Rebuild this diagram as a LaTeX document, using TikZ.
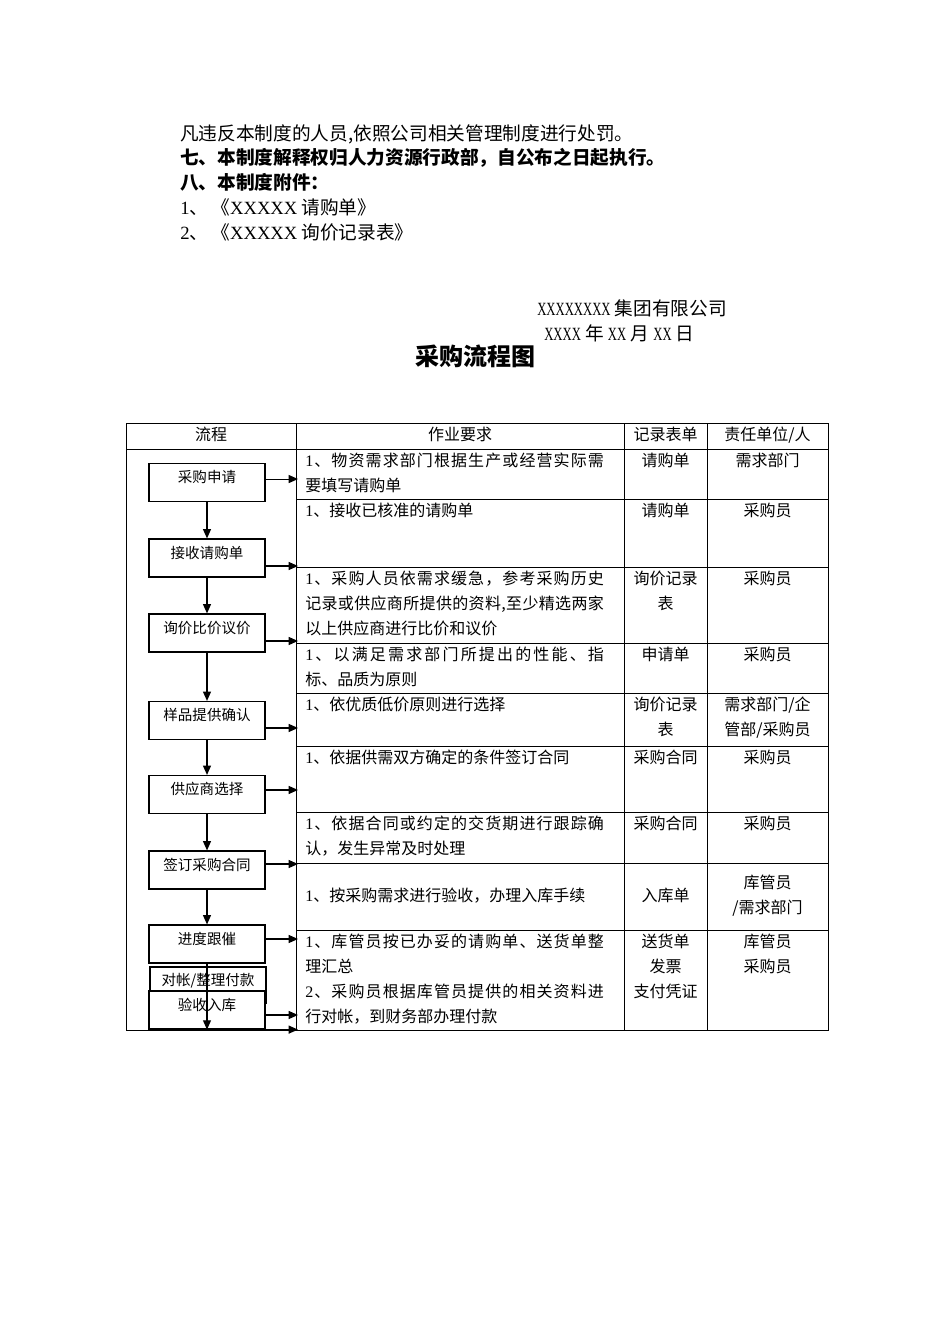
\documentclass[tikz,border=0pt]{standalone}
\usepackage{fontspec}
\setmainfont{Noto Sans CJK SC}
\newfontfamily\tnr{Liberation Serif}
\newfontfamily\tnrn{Liberation Serif}[FakeStretch=0.68]
\usetikzlibrary{arrows.meta}
\newcommand\lt[1]{{\tnr #1}}
\newcommand\jlstop{}
\def\jlstopm{\jlstop}
\def\jl#1{\makebox[224pt][s]{\jlfirst#1\jlstop}}
\def\jlfirst#1{#1\jlloop}
\def\jlloop#1{\def\jltmp{#1}\ifx\jltmp\jlstopm\else\hskip0pt plus 1fil #1\expandafter\jlloop\fi}
\begin{document}
\begin{tikzpicture}[x=0.75pt,y=-0.75pt,
  tx/.style={inner sep=0pt, text height=0.8em, text depth=0.08em},
  toptx/.style={tx, anchor=west, font={\fontsize{14pt}{16pt}\selectfont}},
  ttl/.style={tx, font={\fontsize{18pt}{20pt}\selectfont\bfseries}},
  c2/.style={tx, anchor=west, font={\fontsize{12pt}{14pt}\selectfont}},
  cc/.style={tx, font={\fontsize{12pt}{14pt}\selectfont}},
  flowbox/.style={draw, line width=0.9pt, fill=white, minimum width=87pt,
     minimum height=28.5pt, inner sep=0pt, font={\fontsize{10.9pt}{12pt}\selectfont},
     text height=8pt, text depth=7.66pt},
  arr/.style={line width=0.8pt, -{Triangle[length=7pt,width=6pt]}},
  tline/.style={line width=0.7pt}]
\fill[white] (0,0) rectangle (950,1344);
\useasboundingbox (0,0) rectangle (950,1344);

% top text
\node[toptx] (p1) at (180,136) {凡违反本制度的人员,依照公司相关管理制度进行处罚。};
\node[toptx, font={\fontsize{14pt}{16pt}\selectfont\bfseries}] (p2) at (180,160) {七、本制度解释权归人力资源行政部，自公布之日起执行。};
\node[toptx, font={\fontsize{14pt}{16pt}\selectfont\bfseries}] (p3) at (180,185) {八、本制度附件：};
\node[toptx] (p4) at (180,210) {\lt{1}、\,《\lt{XXXXX} 请购单》};
\node[toptx] (p5) at (180,235) {\lt{2}、\,《\lt{XXXXX} 询价记录表》};
\node[toptx] (co) at (537,311) {{\tnrn XXXXXXXX} 集团有限公司};
\node[toptx] (dt) at (544,336) {{\tnrn XXXX} 年 {\tnrn XX} 月 {\tnrn XX} 日};
\node[ttl] (title) at (475,361) {采购流程图};

% table
\draw[tline] (126,423) rectangle (828,1030);
\draw[tline] (126,449) -- (828,449);
\draw[tline] (296,423) -- (296,1030);
\draw[tline] (624,423) -- (624,1030);
\draw[tline] (707,423) -- (707,1030);
\foreach \yy in {499,567,643,693,746,812,863,930}
  \draw[tline] (296,\yy) -- (828,\yy);

% header
\node[cc] (h1) at (211,436) {流程};
\node[cc] (h2) at (460,436) {作业要求};
\node[cc] (h3) at (665.5,436) {记录表单};
\node[cc] (h4) at (767.5,436) {责任单位/人};

% column 2
\node[c2] (r1a) at (305,462) {\jl{{\lt{1}}、物资需求部门根据生产或经营实际需}};
\node[c2] (r1b) at (305,487) {要填写请购单};
\node[c2] (r2a) at (305,512) {\lt{1}、接收已核准的请购单};
\node[c2] (r3a) at (305,580) {\jl{{\lt{1}}、采购人员依需求缓急，参考采购历史}};
\node[c2] (r3b) at (305,605) {\jl{记录或供应商所提供的资料,至少精选两家}};
\node[c2] (r3c) at (305,630) {以上供应商进行比价和议价};
\node[c2] (r4a) at (305,656) {\jl{{\lt{1}}、以满足需求部门所提出的性能、指}};
\node[c2] (r4b) at (305,681) {标、品质为原则};
\node[c2] (r5a) at (305,706) {\lt{1}、依优质低价原则进行选择};
\node[c2] (r6a) at (305,759) {\lt{1}、依据供需双方确定的条件签订合同};
\node[c2] (r7a) at (305,825) {\jl{{\lt{1}}、依据合同或约定的交货期进行跟踪确}};
\node[c2] (r7b) at (305,850) {认，发生异常及时处理};
\node[c2] (r8a) at (305,897) {\lt{1}、按采购需求进行验收，办理入库手续};
\node[c2] (r9a) at (305,943) {\jl{{\lt{1}}、库管员按已办妥的请购单、送货单整}};
\node[c2] (r9b) at (305,968) {理汇总};
\node[c2] (r9c) at (305,993) {\jl{{\lt{2}}、采购员根据库管员提供的相关资料进}};
\node[c2] (r9d) at (305,1018) {行对帐，到财务部办理付款};

% column 3
\node[cc] (f1) at (665.5,462) {请购单};
\node[cc] (f2) at (665.5,512) {请购单};
\node[cc] (f3a) at (665.5,580) {询价记录};
\node[cc] (f3b) at (665.5,605) {表};
\node[cc] (f4) at (665.5,656) {申请单};
\node[cc] (f5a) at (665.5,706) {询价记录};
\node[cc] (f5b) at (665.5,731) {表};
\node[cc] (f6) at (665.5,759) {采购合同};
\node[cc] (f7) at (665.5,825) {采购合同};
\node[cc] (f8) at (665.5,897) {入库单};
\node[cc] (f9a) at (665.5,943) {送货单};
\node[cc] (f9b) at (665.5,968) {发票};
\node[cc] (f9c) at (665.5,993) {支付凭证};

% column 4
\node[cc] (g1) at (767.5,462) {需求部门};
\node[cc] (g2) at (767.5,512) {采购员};
\node[cc] (g3) at (767.5,580) {采购员};
\node[cc] (g4) at (767.5,656) {采购员};
\node[cc] (g5a) at (767.5,706) {需求部门/企};
\node[cc] (g5b) at (767.5,731) {管部/采购员};
\node[cc] (g6) at (767.5,759) {采购员};
\node[cc] (g7) at (767.5,825) {采购员};
\node[cc] (g8a) at (767.5,884) {库管员};
\node[cc] (g8b) at (767.5,909) {/需求部门};
\node[cc] (g9a) at (767.5,943) {库管员};
\node[cc] (g9b) at (767.5,968) {采购员};

% flow boxes
\node[flowbox] (b1) at (207,482.5) {采购申请};
\node[flowbox] (b2) at (207,558) {接收请购单};
\node[flowbox] (b3) at (207,633) {询价比价议价};
\node[flowbox] (b4) at (207,720.5) {样品提供确认};
\node[flowbox] (b5) at (207,794.5) {供应商选择};
\node[flowbox] (b6) at (207,870) {签订采购合同};
\node[flowbox] (b7) at (207,944) {进度跟催};
\node[flowbox, minimum height=27pt] (b8) at (208,985) {对帐/整理付款};
\node[flowbox] (b9) at (207,1010) {验收入库};

\coordinate (cl) at (298,0);

% vertical arrows
\draw[arr] (b1.south) -- (b2.north);
\draw[arr] (b2.south) -- (b3.north);
\draw[arr] (b3.south) -- (b4.north);
\draw[arr] (b4.south) -- (b5.north);
\draw[arr] (b5.south) -- (b6.north);
\draw[arr] (b6.south) -- (b7.north);
\draw[arr] (b7.south) -- (b9.south);

% horizontal arrows
\draw[arr] ([yshift=2.6pt]b1.east) -- ([yshift=2.6pt]b1.east -| cl);
\draw[arr] ([yshift=-6pt]b2.east) -- ([yshift=-6pt]b2.east -| cl);
\draw[arr] ([yshift=-6pt]b3.east) -- ([yshift=-6pt]b3.east -| cl);
\draw[arr] ([yshift=-5.6pt]b4.east) -- ([yshift=-5.6pt]b4.east -| cl);
\draw[arr] ([yshift=3.4pt]b5.east) -- ([yshift=3.4pt]b5.east -| cl);
\draw[arr] ([yshift=4.5pt]b6.east) -- ([yshift=4.5pt]b6.east -| cl);
\draw[arr] ([yshift=3.75pt]b7.east) -- ([yshift=3.75pt]b7.east -| cl);
\draw[arr] ([yshift=-3.75pt]b9.east) -- ([yshift=-3.75pt]b9.east -| cl);
\draw[arr] (b9.south east) -- (b9.south east -| cl);
\end{tikzpicture}
\end{document}
